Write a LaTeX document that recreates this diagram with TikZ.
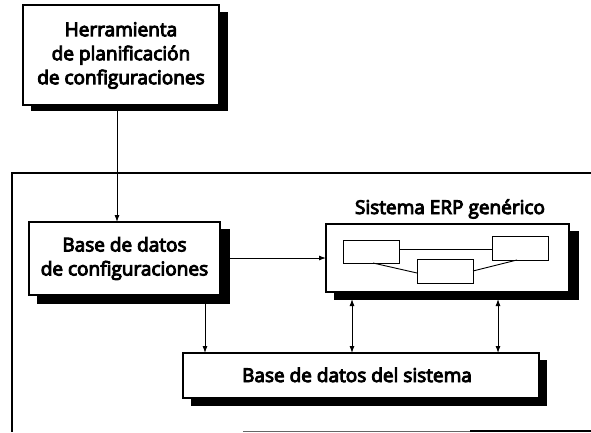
\documentclass[tikz,border=0pt]{standalone}
\usepackage{fontspec}
\setmainfont{Open Sans}
\newfontfamily\lblfont{Open Sans}[FakeBold=5]
\usetikzlibrary{arrows.meta}
\tikzset{
  x=1pt,y=-1pt,
  box/.style={draw=black,line width=1.8pt,fill=white},
  small/.style={draw=black,line width=0.9pt,fill=white},
  conn/.style={draw=black,line width=0.9pt},
  arr/.style={conn,-{Latex[length=7pt,width=5pt]}},
  darr/.style={conn,{Latex[length=7pt,width=5pt]}-{Latex[length=7pt,width=5pt]}},
  lbl/.style={font=\lblfont\fontsize{19}{24}\selectfont,align=center,inner sep=0pt},
}
\begin{document}
\begin{tikzpicture}
\useasboundingbox (0,0) rectangle (591,432);
% outer frame
\draw[line width=1.4pt] (591,173) -- (12,173) -- (12,432);
\draw[line width=1pt,black!60] (243,431) -- (591,431);
\draw[line width=1.6pt] (470,431) -- (591,431);
% shadows
\fill (31,12) rectangle (228,111);
\fill (37,229) rectangle (230,304);
\fill (334,231) rectangle (579,300);
\fill (191,360) rectangle (547,406);
% boxes
\draw[box] (23,5) rectangle (219,105);
\node[lbl] (t1) at (121,55.5) {Herramienta\\de planificación\\de configuraciones};
\draw[box] (29,222) rectangle (220,295);
\node[lbl] (b1) at (124.5,258.5) {Base de datos\\de configuraciones};
\draw[box] (326,224) rectangle (569,292);
\node[lbl,anchor=base] (erpl) at (450,214) {Sistema ERP genérico};
\draw[box] (183,353) rectangle (539,398);
\node[lbl,anchor=base] (s1) at (357,382) {Base de datos del sistema};
% inner boxes
\draw[small] (343,240) rectangle (399,263);
\draw[small] (492,236) rectangle (548,260);
\draw[small] (417,259) rectangle (473,283);
\draw[conn] (399,249) -- (492,249);
\draw[conn] (373,263) -- (417,273);
\draw[conn] (473,271) -- (517,260);
% connectors
\coordinate (a0) at (117,105);
\coordinate (a1) at (117,222);
\draw[arr] (a0) -- (a1);
\coordinate (c0) at (230,258);
\coordinate (c1) at (326,258);
\draw[arr] (c0) -- (c1);
\coordinate (d0) at (205,304);
\coordinate (d1) at (205,353);
\draw[arr] (d0) -- (d1);
\coordinate (e0) at (352,299);
\coordinate (e1) at (352,353);
\draw[darr] (e0) -- (e1);
\coordinate (f0) at (498,299);
\coordinate (f1) at (498,353);
\draw[darr] (f0) -- (f1);
\end{tikzpicture}
\end{document}
